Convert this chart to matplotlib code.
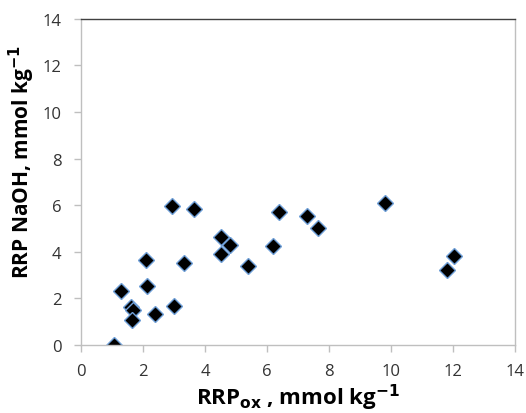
import matplotlib
matplotlib.use("Agg")
import matplotlib.pyplot as plt

# RRP values
rrp_ox = [1.05, 1.28, 1.62, 1.69, 1.64, 2.10, 2.12, 2.38, 3.01, 2.93, 3.63, 3.32,
          4.52, 4.80, 4.52, 5.38, 6.21, 6.39, 7.30, 7.64, 9.82, 12.02, 11.80]
rrp_naoh = [0.00, 2.31, 1.65, 1.52, 1.09, 3.64, 2.55, 1.32, 1.69, 5.95, 5.85, 3.52,
            4.64, 4.28, 3.89, 3.41, 4.25, 5.72, 5.55, 5.01, 6.08, 3.81, 3.23]
ticks = [0, 2, 4, 6, 8, 10, 12, 14]

plt.rcParams['font.family'] = ['Open Sans', 'DejaVu Sans']

fig = plt.figure(figsize=(5.26, 4.14), dpi=100)
ax = fig.add_axes([0.154, 0.164, 0.825, 0.788])

ax.plot(rrp_ox, rrp_naoh, linestyle='none', marker='D', markersize=7.8,
        markerfacecolor='black', markeredgecolor='#6f9fd8', markeredgewidth=1.0)

ax.set_xlim(0, 14)
ax.set_ylim(0, 14)
ax.set_xticks(ticks)
ax.set_yticks(ticks)

for side in ['left', 'bottom', 'right']:
    ax.spines[side].set_color('#bfbfbf')
    ax.spines[side].set_linewidth(1.0)
ax.spines['top'].set_color('#404040')
ax.spines['top'].set_linewidth(1.0)

ax.tick_params(axis='both', direction='out', length=5, width=1.0, color='#bfbfbf',
               labelsize=12, labelcolor='#333333')
ax.tick_params(axis='x', pad=8)
ax.tick_params(axis='y', pad=9)

ax.set_xlabel(r'RRP$_{\mathbf{ox}}$ , mmol kg$^{\mathbf{-1}}$', fontsize=16,
              fontweight='bold')
ax.set_ylabel(r'RRP NaOH, mmol kg$^{\mathbf{-1}}$', fontsize=15,
              fontweight='bold')
ax.xaxis.label.set_va('center')
ax.yaxis.label.set_va('center')
ax.xaxis.set_label_coords(0.5, -0.16)
ax.yaxis.set_label_coords(-0.136, 0.564)

fig.savefig('out.png', dpi=100)
